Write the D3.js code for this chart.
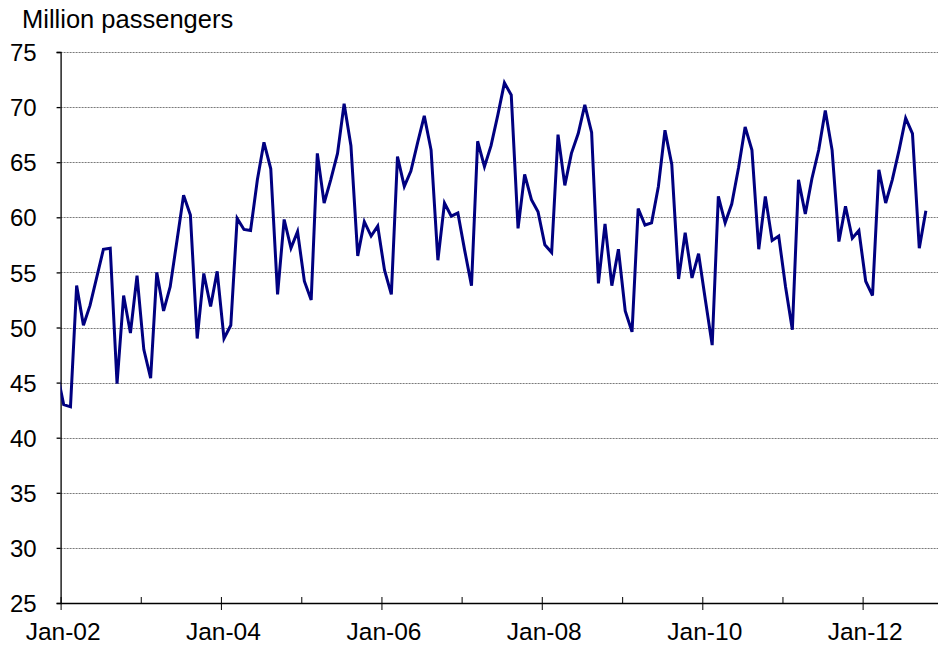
<!DOCTYPE html>
<html>
<head>
<meta charset="utf-8">
<script src="https://cdn.jsdelivr.net/npm/d3@7"></script>
<style>
  html, body { margin: 0; padding: 0; background: #fff; }
  svg { display: block; }
  text { font-family: "Liberation Sans", Arial, sans-serif; fill: #000; }
</style>
</head>
<body>
<div id="chart"></div>
<script>
// ---- Data (monthly, million passengers) ----
const startYear = 2001;   // first value is Dec-2001 (partially hidden by the axis)
const startMonth = 11;    // 0-based month index (December)
const passengers = [
  46.0,
  // 2002
  43.0, 42.8, 53.8, 50.2, 52.0, 54.6, 57.1, 57.2, 44.9, 52.9, 49.5, 54.7,
  // 2003
  48.0, 45.4, 55.0, 51.5, 53.7, 57.9, 62.0, 60.2, 49.0, 54.9, 51.9, 55.1,
  // 2004
  49.0, 50.2, 59.9, 58.9, 58.8, 63.4, 66.8, 64.4, 53.0, 59.8, 57.2, 58.7,
  // 2005
  54.2, 52.5, 65.8, 61.3, 63.4, 65.8, 70.3, 66.5, 56.5, 59.6, 58.3, 59.2,
  // 2006
  55.2, 53.0, 65.5, 62.8, 64.2, 66.8, 69.2, 66.1, 56.1, 61.3, 60.1, 60.4,
  // 2007
  57.0, 53.8, 66.9, 64.6, 66.5, 69.3, 72.2, 71.1, 59.0, 63.9, 61.6, 60.5,
  // 2008
  57.5, 56.8, 67.5, 62.9, 65.8, 67.6, 70.2, 67.7, 54.0, 59.4, 53.8, 57.1,
  // 2009
  51.5, 49.6, 60.8, 59.3, 59.5, 62.8, 67.9, 64.8, 54.4, 58.6, 54.5, 56.7,
  // 2010
  52.5, 48.4, 61.9, 59.5, 61.2, 64.5, 68.2, 66.1, 57.1, 61.9, 57.9, 58.3,
  // 2011
  53.7, 49.8, 63.4, 60.3, 63.5, 66.1, 69.7, 66.1, 57.8, 61.0, 58.1, 58.8,
  // 2012
  54.2, 52.9, 64.3, 61.3, 63.4, 66.1, 69.0, 67.6, 57.2, 60.6
];
const yTicks = [25, 30, 35, 40, 45, 50, 55, 60, 65, 70, 75];
const xTickYears = [2002, 2003, 2004, 2005, 2006, 2007, 2008, 2009, 2010, 2011, 2012];
const xLabelYears = [2002, 2004, 2006, 2008, 2010, 2012];
const yTitle = "Million passengers";

(function () {
  // ---- Build records (each month plotted at mid-month) ----
  const records = passengers.map((v, i) => ({
    date: new Date(startYear, startMonth + i, 15),
    value: v
  }));

  // ---- Layout ----
  const W = 938, H = 648;
  const mLeft = 60.6, mRight = 943, mTop = 52, mBottom = 603;
  const fontFam = '"Liberation Sans", Arial, sans-serif';

  const svg = d3.select("#chart").append("svg")
    .attr("width", W).attr("height", H);

  const x = d3.scaleTime()
    .domain([new Date(2002, 0, 1), new Date(2013, 0, 1)])
    .range([mLeft, mRight]);
  const y = d3.scaleLinear().domain([25, 75]).range([mBottom, mTop]);

  // clip for plot area
  svg.append("defs").append("clipPath").attr("id", "plotclip")
    .append("rect").attr("x", mLeft).attr("y", 0)
    .attr("width", mRight - mLeft).attr("height", H);

  // gridlines
  svg.append("g").selectAll("line")
    .data(yTicks.filter(d => d > 25))
    .join("line")
    .attr("x1", mLeft).attr("x2", W)
    .attr("y1", d => Math.round(y(d)) + 0.5).attr("y2", d => Math.round(y(d)) + 0.5)
    .attr("stroke", "#7a7a7a").attr("stroke-width", 1)
    .attr("stroke-dasharray", "2,1");

  // y axis
  const yAxis = d3.axisLeft(y).tickValues(yTicks).tickSize(4)
    .tickFormat(d3.format("d"));
  const gy = svg.append("g").attr("transform", `translate(${mLeft},0)`).call(yAxis);
  gy.select(".domain").attr("stroke", "#000").attr("stroke-width", 1.3);
  gy.selectAll(".tick line").attr("stroke", "#000").attr("stroke-width", 1.3);
  gy.selectAll(".tick text")
    .attr("font-family", fontFam)
    .attr("font-size", 24).attr("fill", "#000").attr("dy", "0.36em")
    .attr("x", -24);

  // x axis (minor ticks inside, labelled ticks cross)
  const xAxis = d3.axisBottom(x)
    .tickValues(xTickYears.map(yr => new Date(yr, 0, 1)))
    .tickSize(0)
    .tickFormat("");
  const gx = svg.append("g").attr("transform", `translate(0,${mBottom})`).call(xAxis);
  gx.select(".domain").attr("stroke", "#000").attr("stroke-width", 1.3);
  gx.selectAll(".tick line")
    .attr("stroke", "#000").attr("stroke-width", 1)
    .attr("y1", -6)
    .attr("y2", d => xLabelYears.includes(d.getFullYear()) ? 7 : 0);
  gx.selectAll(".tick").filter(d => xLabelYears.includes(d.getFullYear()))
    .append("text")
    .attr("x", 2)
    .attr("y", 37)
    .attr("text-anchor", "middle")
    .attr("font-family", fontFam)
    .attr("font-size", 24.5).attr("fill", "#000")
    .text(d => d3.timeFormat("%b-%y")(d));

  // line
  const line = d3.line().x(d => x(d.date)).y(d => y(d.value));
  svg.append("path")
    .datum(records)
    .attr("clip-path", "url(#plotclip)")
    .attr("fill", "none")
    .attr("stroke", "#000080")
    .attr("stroke-width", 3)
    .attr("stroke-linejoin", "miter")
    .attr("d", line);

  // y title
  svg.append("text")
    .attr("x", 22).attr("y", 28)
    .attr("font-family", fontFam)
    .attr("font-size", 25.5)
    .text(yTitle);
})();
</script>
</body>
</html>
